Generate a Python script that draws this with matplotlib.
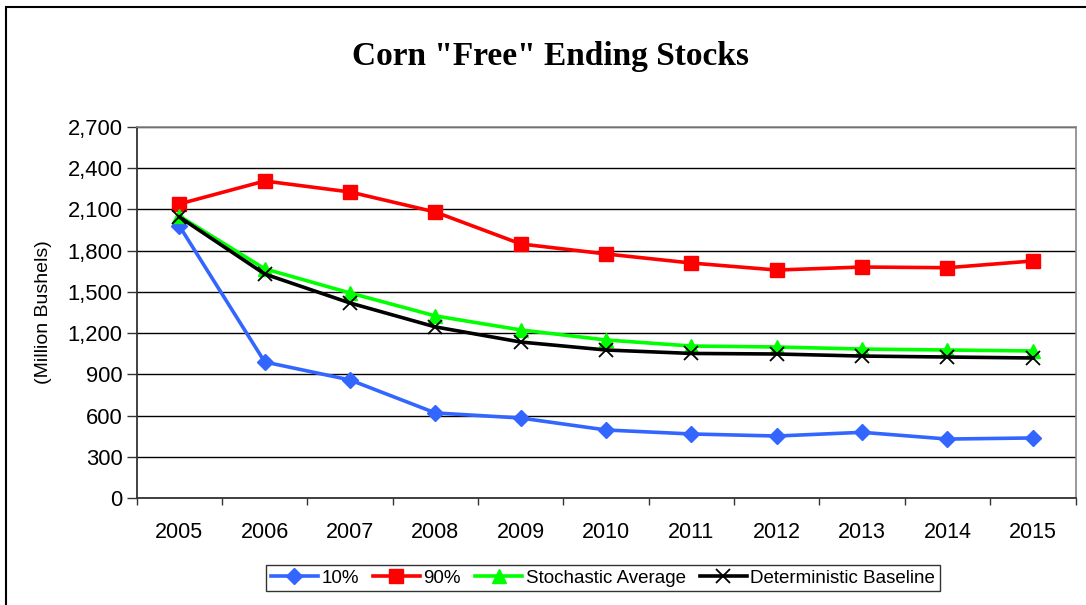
import matplotlib
matplotlib.use("Agg")
import matplotlib.pyplot as plt
from matplotlib.patches import Rectangle
import numpy as np

# Data
years = ["2005", "2006", "2007", "2008", "2009", "2010",
         "2011", "2012", "2013", "2014", "2015"]
p10 = [1980, 990, 859, 619, 582, 495, 466, 451, 478, 429, 437]
p90 = [2140, 2307, 2227, 2081, 1849, 1776, 1710, 1659, 1681, 1676, 1725]
stoch_avg = [2052, 1668, 1492, 1325, 1223, 1150, 1106, 1099, 1084, 1077, 1070]
det_base = [2045, 1630, 1419, 1245, 1135, 1077, 1052, 1048, 1033, 1026, 1019]

plt.rcParams['font.family'] = ['Liberation Sans', 'DejaVu Sans']

W, H = 1086, 605
fig = plt.figure(figsize=(W / 100, H / 100), dpi=100)
ax = fig.add_axes([136.7 / W, 1 - 498 / H, (1075.5 - 136.7) / W, (498 - 127) / H])

x = np.arange(len(years))
lw = 2.6
ax.plot(x, p10, color='#3366FF', lw=lw, marker='D', ms=8.5, label='10%', zorder=3)
ax.plot(x, p90, color='#FF0000', lw=lw, marker='s', ms=10, label='90%', zorder=3)
ax.plot(x, stoch_avg, color='#00FF00', lw=lw, marker='^', ms=9.5, label='Stochastic Average', zorder=4)
ax.plot(x, det_base, color='black', lw=lw, marker='x', ms=10, mew=1.3, label='Deterministic Baseline', zorder=5)

ax.set_xlim(-0.5, len(years) - 0.5)
ax.set_ylim(0, 2700)
ax.set_yticks(np.arange(0, 2701, 300))
ax.set_yticklabels([f"{v:,}" for v in range(0, 2701, 300)])
ax.set_xticks(x)
ax.set_xticklabels(years)
ax.set_xticks(np.arange(-0.5, len(years), 1), minor=True)
ax.tick_params(axis='x', which='major', length=0, labelsize=15.5, pad=17)
ax.tick_params(axis='x', which='minor', length=5, width=1, color='#333333', direction='out')
ax.tick_params(axis='y', length=7, width=1, color='#333333', labelsize=15.8, pad=3)

ax.grid(axis='y', color='black', lw=1)
ax.set_axisbelow(True)
for side in ['top', 'right']:
    ax.spines[side].set_color('#888888')
    ax.spines[side].set_linewidth(1.2)
for side in ['left', 'bottom']:
    ax.spines[side].set_color('#333333')
    ax.spines[side].set_linewidth(1.3)

ax.set_ylabel("(Million Bushels)", fontsize=14, labelpad=11)

fig.text(551 / W, 1 - 57 / H, 'Corn "Free" Ending Stocks', ha='center', va='center',
         fontsize=24, fontweight='bold', family='Liberation Serif')

leg = fig.legend(loc='center', bbox_to_anchor=(603 / W, 1 - 578 / H), ncol=4,
                 fontsize=13.5, frameon=True, fancybox=False, edgecolor='black',
                 handlelength=2.5, handletextpad=0.2, columnspacing=0.75,
                 borderpad=0.25, borderaxespad=0)
leg.get_frame().set_linewidth(1.0)

# outer chart frame
fig.patches.append(Rectangle((6 / W, -0.1), 1.2, 1 - 7 / H + 0.1, transform=fig.transFigure,
                             fill=False, edgecolor='black', lw=1.5))

fig.savefig("out.png", dpi=100)
